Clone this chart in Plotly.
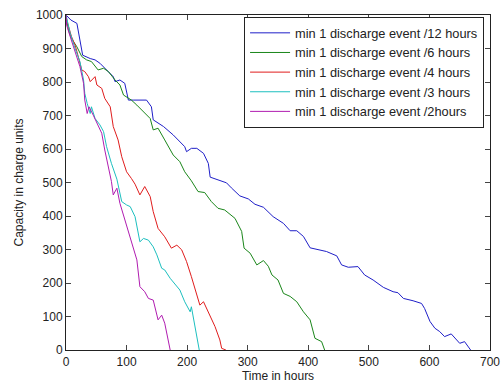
import plotly.graph_objects as go

names = ["min 1 discharge event /12 hours", "min 1 discharge event /6 hours",
         "min 1 discharge event /4 hours", "min 1 discharge event /3 hours",
         "min 1 discharge event /2hours"]

blue_x = [0, 8, 18, 23, 27.5, 40, 48, 56, 67, 78, 81, 89, 97, 103, 111, 133, 141, 144, 161, 177, 196, 199,
          207, 216, 227, 235, 238, 251, 265, 273, 287, 301, 312, 326, 331, 342, 359, 370, 381, 392, 403,
          416, 430, 447, 455, 466, 482, 493, 507, 524, 540, 548, 557, 573, 587, 592, 601, 609, 617, 625,
          636, 650, 658, 668]
blue_y = [1000, 985, 975, 925, 880, 870, 866, 856, 836, 816, 801, 806, 796, 746, 746, 746, 726, 687, 667, 642,
          607, 592, 602, 602, 587, 557, 516, 507, 499, 484, 460, 451, 435, 426, 418, 398, 378, 356, 356, 339,
          305, 300, 294, 281, 254, 247, 249, 224, 209, 187, 174, 171, 154, 147, 139, 124, 85, 65, 55, 40,
          48, 20, 25, 0]

green_x = [0, 1, 4, 9, 18, 26, 34, 42, 53, 62, 70, 81, 89, 95, 108, 117, 128, 139, 144, 152, 163, 177, 188,
           196, 207, 218, 229, 240, 251, 262, 279, 290, 294, 304, 315, 326, 334, 340, 350, 359, 370, 381,
           392, 403, 411, 422, 427]
green_y = [1000, 985, 955, 930, 905, 876, 866, 861, 836, 841, 831, 806, 791, 761, 746, 731, 711, 691, 657,
           662, 627, 582, 562, 532, 505, 473, 470, 443, 423, 418, 393, 354, 304, 289, 254, 267, 250, 224,
           209, 169, 160, 144, 114, 90, 35, 25, 0]

red_x = [0, 1, 9, 15, 18, 23, 26, 31, 37, 40, 48, 51, 59, 64, 73, 78, 86, 92, 100, 108, 114, 122, 130, 139,
         144, 152, 163, 174, 183, 191, 199, 207, 221, 227, 235, 246, 254, 257, 264]
red_y = [1000, 985, 936, 910, 891, 861, 836, 831, 816, 801, 816, 791, 781, 751, 726, 667, 627, 577, 532,
         512, 495, 463, 488, 458, 413, 363, 338, 304, 313, 299, 264, 219, 134, 144, 114, 70, 30, 5, 0]

cyan_x = [0, 7, 15, 23, 29, 31, 35, 40, 42, 48, 56, 62, 67, 75, 84, 92, 100, 106, 114, 122, 128, 136, 144,
          150, 158, 163, 172, 183, 188, 196, 202, 205, 207, 210, 216, 220]
cyan_y = [1000, 945, 900, 861, 806, 766, 736, 706, 726, 691, 672, 652, 607, 557, 510, 443, 433, 428, 398,
          323, 333, 328, 308, 284, 244, 239, 214, 189, 179, 144, 124, 114, 129, 99, 45, 0]

mag_x = [0, 1, 7, 12, 19, 23, 29, 31, 35, 38, 45, 53, 59, 64, 70, 75, 78, 84, 89, 97, 106, 117, 122, 130,
         136, 144, 152, 158, 163, 169, 172]
mag_y = [1000, 970, 935, 905, 870, 846, 796, 746, 706, 726, 701, 672, 647, 597, 548, 503, 463, 483, 438,
         388, 333, 269, 189, 174, 154, 149, 90, 104, 80, 30, 0]

colors = ["#1f1fc8", "#1a861a", "#e01c1c", "#1cbfbf", "#b01cb0"]
series = [(blue_x, blue_y), (green_x, green_y), (red_x, red_y), (cyan_x, cyan_y), (mag_x, mag_y)]

x_ticks = [0, 100, 200, 300, 400, 500, 600, 700]
y_ticks = [0, 100, 200, 300, 400, 500, 600, 700, 800, 900, 1000]

fig = go.Figure()
for (xs, ys), nm, c in zip(series, names, colors):
    fig.add_trace(go.Scatter(x=xs, y=ys, mode="lines", name=nm,
                             line=dict(color=c, width=1)))

fam = "Liberation Sans, Arial, sans-serif"
font = dict(family=fam, size=12, color="#222222")
fig.update_layout(
    width=502, height=383,
    margin=dict(l=66, r=12, t=15, b=33),
    paper_bgcolor="white", plot_bgcolor="white",
    font=font,
    showlegend=True,
    legend=dict(x=0.986, y=0.994, xanchor="right", yanchor="top",
                bgcolor="white", bordercolor="#222222", borderwidth=1,
                font=dict(family=fam, size=12.8, color="#222222"),
                tracegroupgap=0, itemwidth=40),
)
fig.update_xaxes(range=[0, 700], tickvals=x_ticks, ticks="inside", ticklen=5,
                 showline=True, linecolor="#222222", linewidth=1, mirror="ticks",
                 showgrid=False, zeroline=False, ticklabelstandoff=1, automargin=False,
                 title=dict(text="Time in hours", standoff=5, font=dict(size=12)))
fig.update_yaxes(range=[0, 1000], tickvals=y_ticks, ticks="inside", ticklen=5,
                 showline=True, linecolor="#222222", linewidth=1, mirror="ticks",
                 showgrid=False, zeroline=False, automargin=False,
                 title=dict(text="Capacity in charge units", standoff=9, font=dict(size=12)))

fig.write_html("out.html")
